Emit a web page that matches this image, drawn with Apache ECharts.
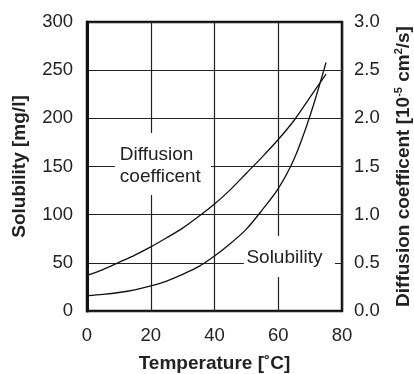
<!DOCTYPE html>
<html><head><meta charset="utf-8">
<script src="https://cdn.jsdelivr.net/npm/echarts@6/dist/echarts.min.js"></script>
<style>html,body{margin:0;padding:0;background:#fff}#c{width:414px;height:374px}</style>
</head><body><div id="c"></div>
<script>
var temperatures = [0,5,10,15,20,25,30,35,40,45,50,55,60,65,70,75];
var solubility = [16,17.3,19.2,22,26,31,38,46,57,70,85,105,127,158,203,258];
var diffusion = [0.37,0.43,0.505,0.58,0.665,0.76,0.86,0.98,1.11,1.26,1.43,1.60,1.78,1.98,2.22,2.46];
var xTicks = [0,20,40,60,80];
var leftTicks = [0,50,100,150,200,250,300];
var rightTicks = [0.0,0.5,1.0,1.5,2.0,2.5,3.0];

var font = 'Liberation Sans, Arial, Helvetica, sans-serif';
var chart = echarts.init(document.getElementById('c'), null, {renderer:'canvas'});
chart.setOption({
  animation:false,
  backgroundColor:'#fff',
  grid:{left:87,right:72,top:22,bottom:63,containLabel:false,outerBoundsMode:'none',show:true,borderColor:'#111',borderWidth:2.5,backgroundColor:'transparent'},
  xAxis:{type:'value',min:0,max:80,interval:20,
    name:'Temperature [˚C]',nameLocation:'middle',nameGap:43,
    nameTextStyle:{fontFamily:font,fontSize:19,fontWeight:'bold',color:'#222'},
    axisLine:{show:false},axisTick:{show:false},
    axisLabel:{fontFamily:font,fontSize:18.5,color:'#222',margin:15,
      formatter:function(v){return xTicks.indexOf(v)>=0?String(v):'';}},
    splitLine:{show:true,lineStyle:{color:'#222',width:1.2}}},
  yAxis:[
    {type:'value',min:0,max:300,interval:50,position:'left',
     name:'Solubility [mg/l]',nameLocation:'middle',nameGap:58,
     nameTextStyle:{fontFamily:font,fontSize:19,fontWeight:'bold',color:'#222'},
     axisLine:{show:true,lineStyle:{color:'#111',width:3}},axisTick:{show:false},
     axisLabel:{fontFamily:font,fontSize:18.5,color:'#222',margin:14,
       formatter:function(v){return leftTicks.indexOf(v)>=0?String(v):'';}},
     splitLine:{show:true,lineStyle:{color:'#222',width:1.2}}},
    {type:'value',min:0,max:3,interval:0.5,position:'right',
     name:'{b|Diffusion coefficent [10}{s|-5}{b| cm}{s|2}{b|/s]}',nameLocation:'middle',nameGap:51,
     nameTextStyle:{fontFamily:font,fontSize:19,fontWeight:'bold',color:'#222',
       rich:{b:{fontFamily:font,fontSize:19,fontWeight:'bold',color:'#222',lineHeight:21},
             s:{fontFamily:font,fontSize:11,fontWeight:'bold',color:'#222',verticalAlign:'top',lineHeight:21,padding:[0,0,8,0]}}},
     axisLine:{show:false},axisTick:{show:false},
     axisLabel:{fontFamily:font,fontSize:18.5,color:'#222',margin:12,
       formatter:function(v){return rightTicks[Math.round(v*2)].toFixed(1);}},
     splitLine:{show:false}}
  ],
  series:[
    {type:'line',yAxisIndex:0,smooth:0.3,symbol:'none',
     lineStyle:{color:'#111',width:1.3},
     data:temperatures.map(function(t,i){return [t,solubility[i]];}),
     markPoint:{symbol:'rect',symbolSize:[91,41],itemStyle:{color:'#fff'},
       label:{show:true,formatter:'Solubility',fontFamily:font,fontSize:19,color:'#222',offset:[-5,1]},
       data:[{coord:[63.5,56.6]}]}},
    {type:'line',yAxisIndex:1,smooth:0.3,symbol:'none',
     lineStyle:{color:'#111',width:1.3},
     data:temperatures.map(function(t,i){return [t,diffusion[i]];}),
     markPoint:{symbol:'rect',symbolSize:[96,62],itemStyle:{color:'#fff'},
       label:{show:true,formatter:'Diffusion\ncoefficent',fontFamily:font,fontSize:19,color:'#222',lineHeight:22,align:'left',offset:[-43,2]},
       data:[{coord:[23.8,1.526]}]}}
  ]
});
</script></body></html>
